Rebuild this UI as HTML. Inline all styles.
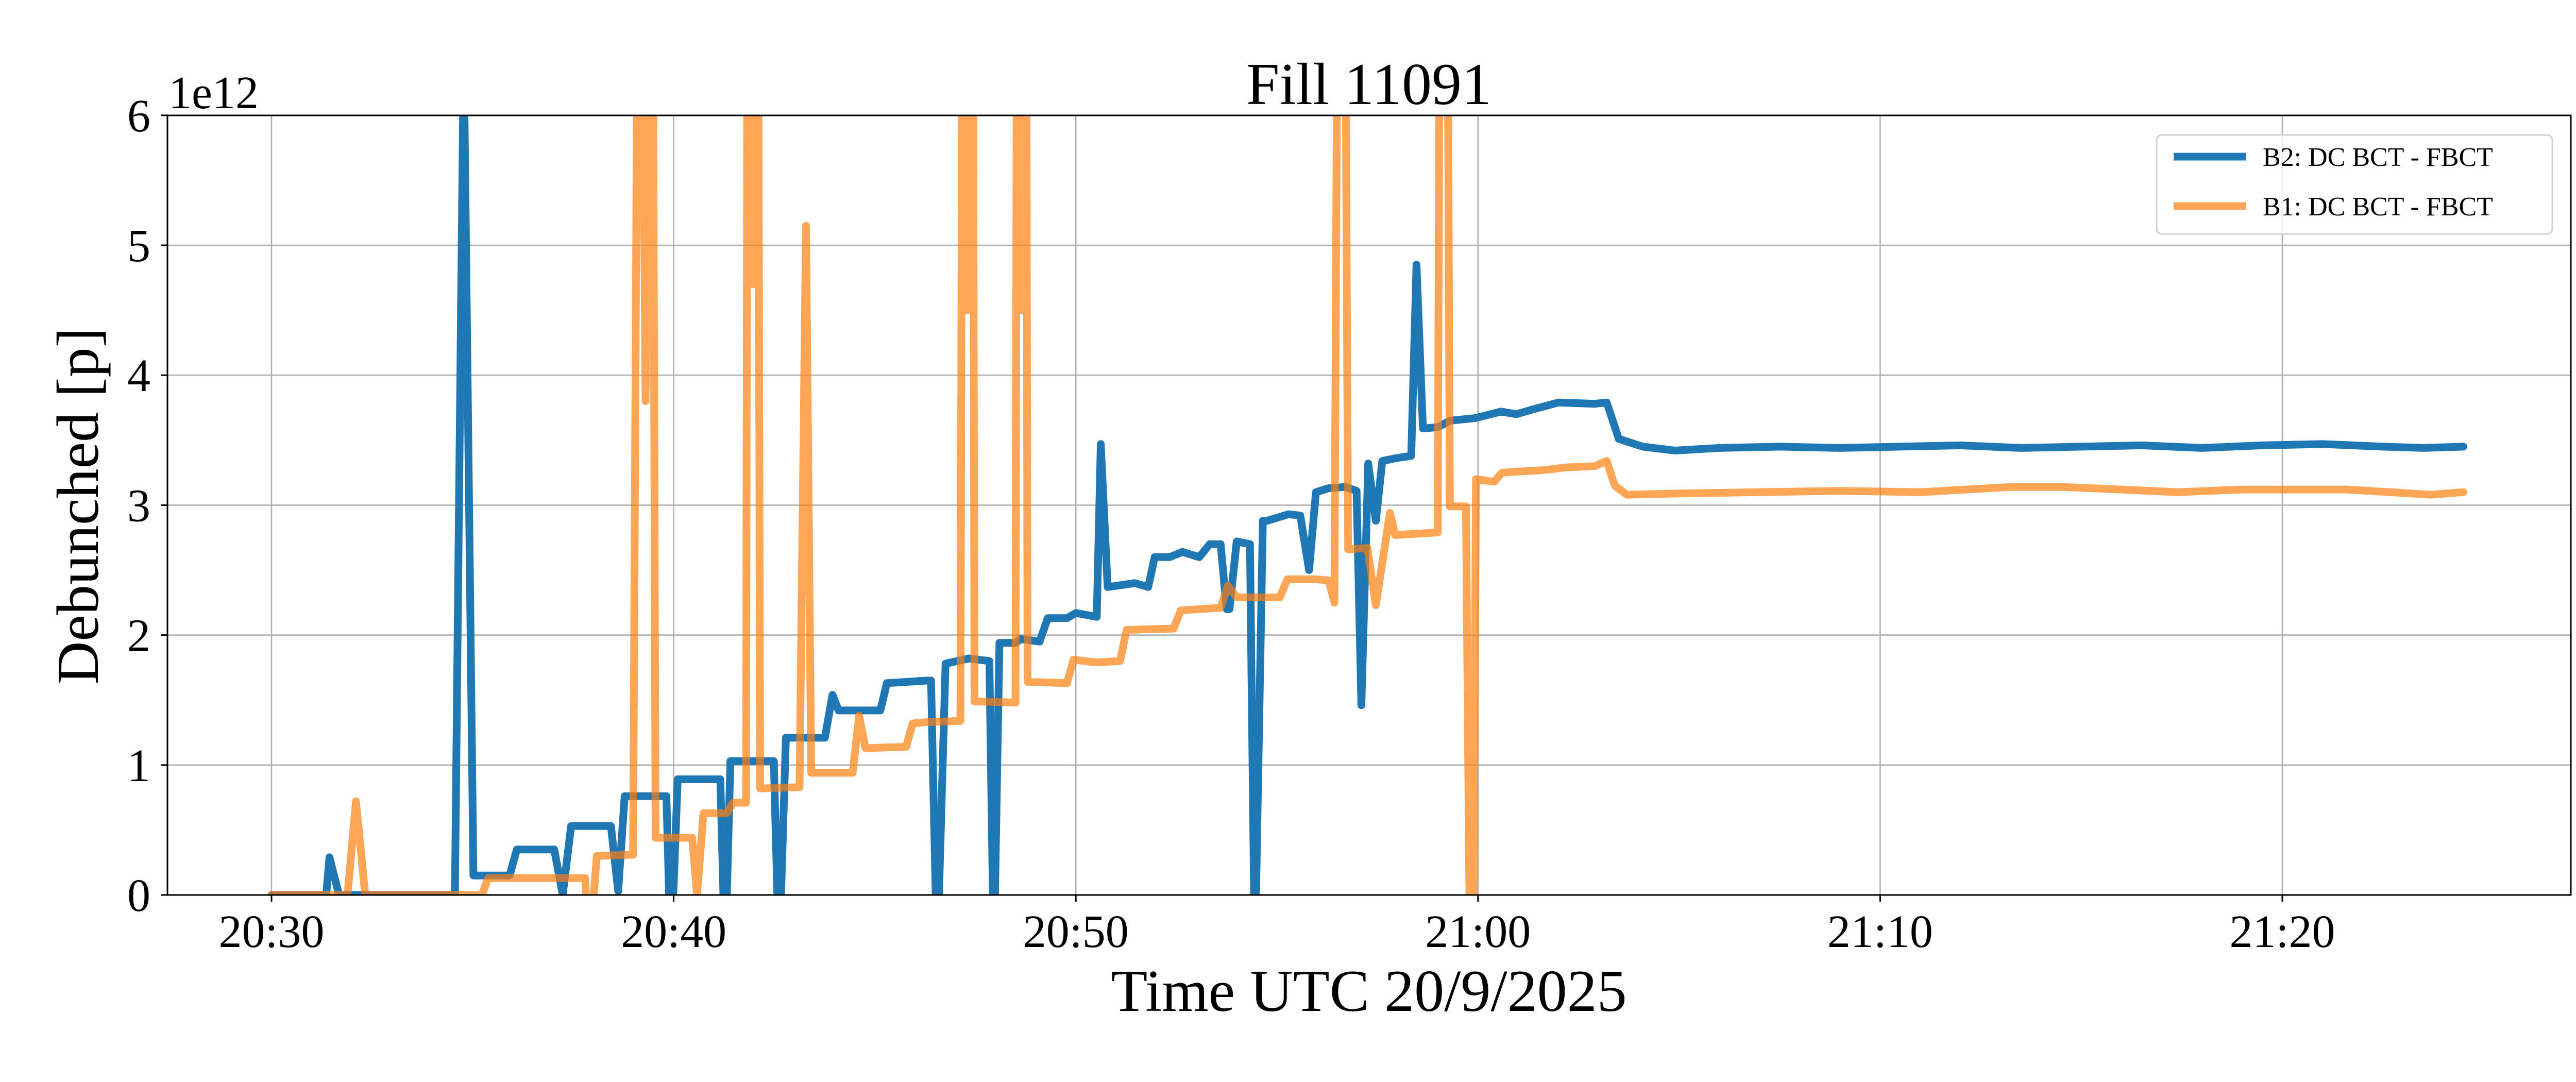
<!DOCTYPE html>
<html><head><meta charset="utf-8"><style>
html,body{margin:0;padding:0;background:#fff;}
svg{display:block;font-family:"Liberation Serif",serif;}
</style></head><body>
<svg id="chart" width="5100" height="2100" viewBox="0 0 5100 2100">
<defs><clipPath id="plotclip"><rect x="325" y="224" width="4665" height="1513"/></clipPath></defs>
<rect x="0" y="0" width="5100" height="2100" fill="#fff"/>
<g id="grid"></g>
<g id="series" clip-path="url(#plotclip)"></g>
<rect x="325" y="224" width="4665" height="1513" fill="none" stroke="#000" stroke-width="3"/>
<g id="ticks"></g>
<text x="2657" y="202" text-anchor="middle" font-size="116">Fill 11091</text>
<text x="327" y="210" font-size="90">1e12</text>
<text x="2657" y="1962" text-anchor="middle" font-size="116">Time UTC 20/9/2025</text>
<text transform="translate(190,982) rotate(-90)" text-anchor="middle" font-size="116">Debunched [p]</text>
<g>
<rect x="4186" y="262" width="768" height="192" rx="10" fill="#fff" fill-opacity="0.8" stroke="#d0d0d0" stroke-width="3"/>
<line x1="4219" y1="304" x2="4359" y2="304" stroke="#1f77b4" stroke-width="15"/>
<text x="4392" y="322" font-size="52">B2: DC BCT - FBCT</text>
<line x1="4219" y1="400" x2="4359" y2="400" stroke="#ffa354" stroke-width="15"/>
<text x="4392" y="418" font-size="52">B1: DC BCT - FBCT</text>
</g>
</svg>
<script>
// minutes after 20:30 UTC, values in units of 1e12 p
const xTickLabels = ["20:30","20:40","20:50","21:00","21:10","21:20"];
const xTickMinutes = [0,10,20,30,40,50];
const yTickValues = [0,1,2,3,4,5,6];
const b2Minutes = [0,1.36,1.44,1.68,4.56,4.78,5.02,5.92,6.1,7.03,7.24,7.45,8.44,8.62,8.78,9.82,9.93,10.1,11.16,11.28,11.41,12.49,12.62,12.79,13.76,13.95,14.1,15.14,15.3,16.3,16.4,16.55,16.76,17.34,17.85,17.96,18.1,18.5,18.63,19.1,19.3,19.78,20.0,20.52,20.62,20.79,21.26,21.47,21.8,21.96,22.33,22.65,23.07,23.33,23.6,23.75,23.82,24.0,24.33,24.45,24.65,24.76,25.29,25.58,25.8,25.97,26.29,26.7,26.98,27.1,27.27,27.46,27.62,27.94,28.34,28.47,28.63,29.0,29.3,29.94,30.57,30.95,31.4,32.0,32.9,33.2,33.5,34.1,34.9,36,37.5,39,40.5,42,43.5,45,46.5,48,49.5,51,52.5,53.5,54.5];
const b2Values  = [0,0,0.29,0,0,6.5,0.15,0.15,0.35,0.35,0,0.53,0.53,0.03,0.76,0.76,-0.5,0.89,0.89,-0.5,1.03,1.03,-0.5,1.21,1.21,1.54,1.42,1.42,1.63,1.65,1.65,-0.5,1.78,1.82,1.80,-0.5,1.94,1.94,1.97,1.95,2.13,2.13,2.17,2.14,3.47,2.37,2.39,2.40,2.37,2.60,2.60,2.64,2.60,2.70,2.70,2.20,2.20,2.72,2.70,-0.5,2.88,2.88,2.93,2.92,2.50,3.10,3.13,3.14,3.11,1.46,3.32,2.88,3.34,3.36,3.38,4.85,3.59,3.60,3.65,3.67,3.72,3.70,3.74,3.79,3.78,3.79,3.51,3.45,3.42,3.44,3.45,3.44,3.45,3.46,3.44,3.45,3.46,3.44,3.46,3.47,3.45,3.44,3.45];
const b1Minutes = [0,1.89,2.1,2.33,5.23,5.39,7.8,7.88,8.09,8.99,9.15,9.3,9.45,9.55,10.46,10.58,10.74,11.32,11.48,11.8,11.85,11.97,12.08,12.15,13.13,13.29,13.42,14.45,14.61,14.77,15.78,15.94,16.3,17.13,17.2,17.3,17.42,17.48,18.5,18.55,18.65,18.75,18.8,19.78,19.94,20.52,21.1,21.26,22.43,22.61,23.6,23.78,24.0,25.07,25.26,25.97,26.29,26.43,26.55,26.65,26.77,27.25,27.46,27.81,27.94,29.0,29.08,29.2,29.3,29.7,29.8,29.88,29.95,30.4,30.6,31.1,31.65,32.17,32.9,33.2,33.4,33.7,35,37,39,41,43.25,44.5,46,47.4,49,51.6,53.7,54.5];
const b1Values  = [0,0,0.72,0,0,0.13,0.13,-0.5,0.30,0.31,10,3.8,10,0.44,0.44,0,0.63,0.63,0.71,0.71,10,4.7,10,0.82,0.83,5.15,0.94,0.94,1.38,1.13,1.14,1.32,1.33,1.34,10,4.5,10,1.49,1.48,10,4.5,10,1.64,1.63,1.81,1.79,1.80,2.04,2.05,2.19,2.21,2.38,2.29,2.29,2.43,2.43,2.42,2.25,10,10,2.66,2.67,2.23,2.94,2.77,2.79,10,10,2.99,2.99,-0.5,-0.5,3.20,3.18,3.25,3.26,3.27,3.29,3.30,3.34,3.15,3.08,3.09,3.10,3.11,3.10,3.14,3.14,3.12,3.10,3.12,3.12,3.08,3.10];

const NS = "http://www.w3.org/2000/svg";
const X0 = 527, PXMIN = 78.06, Y0 = 1737, PXUNIT = 252.2;
function xScale(m){ return X0 + m*PXMIN; }
function yScale(v){ return Y0 - v*PXUNIT; }
const grid = document.getElementById('grid');
const ticks = document.getElementById('ticks');
const series = document.getElementById('series');

xTickMinutes.forEach((m,i)=>{
  const x = xScale(m);
  const g = document.createElementNS(NS,'line');
  g.setAttribute('x1',x); g.setAttribute('x2',x); g.setAttribute('y1',224); g.setAttribute('y2',1737);
  g.setAttribute('stroke','#b0b0b0'); g.setAttribute('stroke-width','2.6');
  
  
  grid.appendChild(g);
  const t = document.createElementNS(NS,'line');
  t.setAttribute('x1',x); t.setAttribute('x2',x); t.setAttribute('y1',1737); t.setAttribute('y2',1750);
  t.setAttribute('stroke','#000'); t.setAttribute('stroke-width','3');
  
  
  ticks.appendChild(t);
  const l = document.createElementNS(NS,'text');
  l.setAttribute('x',x); l.setAttribute('y',1838); l.setAttribute('text-anchor','middle'); l.setAttribute('font-size','90');
  l.textContent = xTickLabels[i];
  
  
  ticks.appendChild(l);
});
yTickValues.forEach(v=>{
  const y = yScale(v);
  const g = document.createElementNS(NS,'line');
  g.setAttribute('x1',325); g.setAttribute('x2',4990); g.setAttribute('y1',y); g.setAttribute('y2',y);
  g.setAttribute('stroke','#b0b0b0'); g.setAttribute('stroke-width','2.6');
  
  
  grid.appendChild(g);
  const t = document.createElementNS(NS,'line');
  t.setAttribute('x1',312); t.setAttribute('x2',325); t.setAttribute('y1',y); t.setAttribute('y2',y);
  t.setAttribute('stroke','#000'); t.setAttribute('stroke-width','3');
  
  
  ticks.appendChild(t);
  const l = document.createElementNS(NS,'text');
  l.setAttribute('x',292); l.setAttribute('y',y+31); l.setAttribute('text-anchor','end'); l.setAttribute('font-size','90');
  l.textContent = String(v);
  
  
  ticks.appendChild(l);
});
function drawLine(ms, vs, color, opacity, name){
  const p = document.createElementNS(NS,'polyline');
  p.setAttribute('points', ms.map((m,i)=>xScale(m).toFixed(1)+','+yScale(vs[i]).toFixed(1)).join(' '));
  p.setAttribute('fill','none'); p.setAttribute('stroke',color); p.setAttribute('stroke-opacity',opacity);
  p.setAttribute('stroke-width','15'); p.setAttribute('stroke-linejoin','round'); p.setAttribute('stroke-linecap','round');
  
  
  series.appendChild(p);
}
drawLine(b2Minutes, b2Values, '#1f77b4', 1, 'b2-line');
drawLine(b1Minutes, b1Values, '#ff7f0e', 0.7, 'b1-line');
</script>
</body></html>
